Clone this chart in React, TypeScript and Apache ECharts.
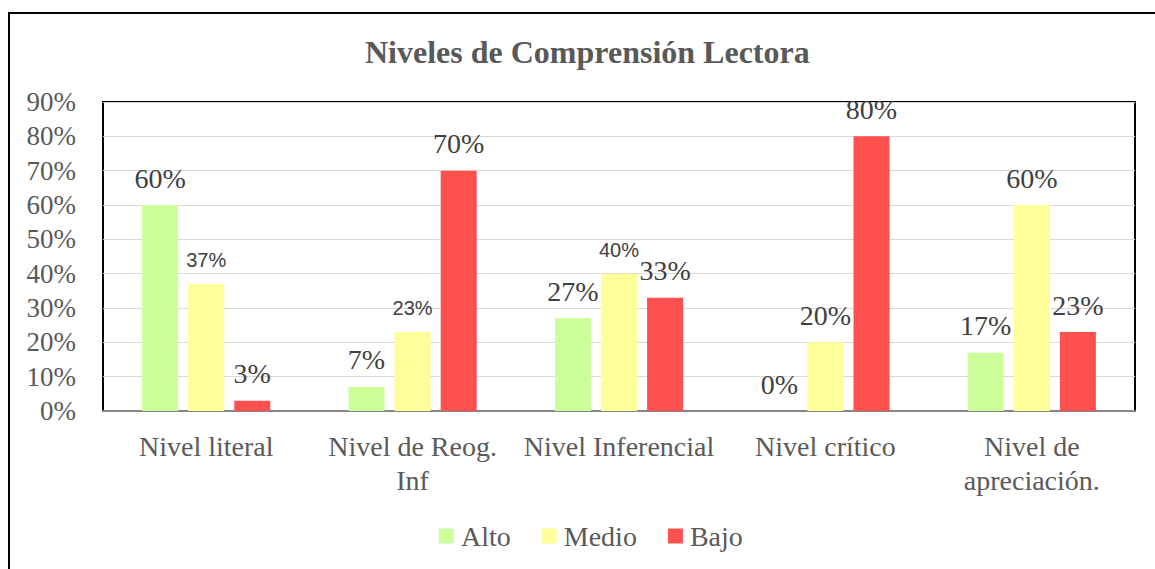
import React, { useEffect, useRef } from "react";
import * as echarts from "echarts";

const titleText = "Niveles de Comprensión Lectora";
const categories = ["Nivel literal", "Nivel de Reog.\nInf", "Nivel Inferencial", "Nivel crítico", "Nivel de\napreciación."];
const seriesNames = ["Alto", "Medio", "Bajo"];
const alto = [60, 7, 27, 0, 17];
const medio = [37, 23, 40, 20, 60];
const bajo = [3, 70, 33, 80, 23];
// which data labels are drawn in the smaller sans font in the reference
const medioSansLabels = [true, true, true, false, false];

const colors = ["#ccff99", "#ffff99", "#ff5050"];
const serif = "Liberation Serif";
const sans = "Liberation Sans";

export default function App() {
  const ref = useRef<HTMLDivElement>(null);
  useEffect(() => {
    if (!ref.current) return;
    const chart = echarts.init(ref.current, undefined, { renderer: "svg" });
    const serifLabel = {
      show: true,
      position: "top",
      distance: 13,
      formatter: "{c}%",
      color: "#404040",
      fontFamily: serif,
      fontSize: 28,
    };
    const sansLabel = { ...serifLabel, fontFamily: sans, fontSize: 20, distance: 14 };
    const mk = (name: string, vals: number[], color: string, sansFlags?: boolean[]) => ({
      name,
      type: "bar",
      barWidth: 36,
      barGap: "28%",
      itemStyle: { color },
      label: serifLabel,
      data: vals.map((v, i) => (sansFlags && sansFlags[i] ? { value: v, label: sansLabel } : v)),
    });
    chart.setOption({
      animation: false,
      backgroundColor: "#ffffff",
      title: {
        text: titleText,
        left: 365,
        top: 36,
        padding: 0,
        textStyle: { fontFamily: serif, fontSize: 32, fontWeight: "bold", color: "#595959" },
      },
      graphic: [
        {
          type: "rect",
          shape: { x: 9, y: 13, width: 1170, height: 580 },
          style: { fill: "none", stroke: "#000", lineWidth: 2 },
          silent: true,
        },
      ],
      legend: {
        data: seriesNames,
        left: 434,
        top: 517,
        itemWidth: 15,
        itemHeight: 15,
        itemGap: 31,
        icon: "rect",
        textStyle: { fontFamily: serif, fontSize: 28, color: "#595959", padding: [0, 0, 0, 2] },
      },
      grid: {
        left: 103,
        right: 20,
        top: 102,
        bottom: 158,
        show: true,
        borderColor: "#000",
        borderWidth: 2,
      },
      xAxis: {
        type: "category",
        data: categories,
        axisTick: { show: false },
        axisLine: { lineStyle: { color: "#868686", width: 2 } },
        axisLabel: {
          interval: 0,
          margin: 18,
          lineHeight: 34,
          fontFamily: serif,
          fontSize: 28,
          color: "#595959",
        },
      },
      yAxis: {
        type: "value",
        min: 0,
        max: 90,
        interval: 10,
        axisLine: { show: false },
        axisTick: { show: false },
        splitLine: { lineStyle: { color: "#d9d9d9", width: 1 } },
        axisLabel: {
          formatter: "{value}%",
          margin: 27,
          fontFamily: serif,
          fontSize: 27,
          color: "#595959",
        },
      },
      series: [
        mk(seriesNames[0], alto, colors[0]),
        mk(seriesNames[1], medio, colors[1], medioSansLabels),
        mk(seriesNames[2], bajo, colors[2]),
      ],
    });
    return () => chart.dispose();
  }, []);
  return (
    <div
      ref={ref}
      style={{ position: "fixed", left: 0, top: 0, width: 1155, height: 569, background: "#fff" }}
    />
  );
}
